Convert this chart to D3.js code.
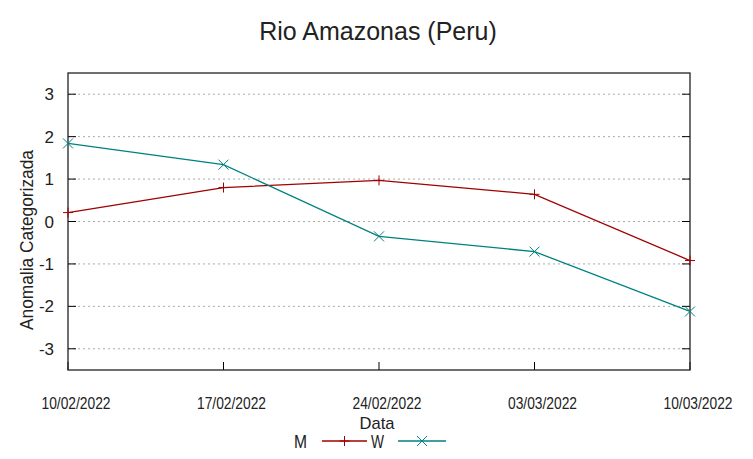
<!DOCTYPE html>
<html lang="pt">
<head>
<meta charset="utf-8" />
<title>Rio Amazonas (Peru)</title>
<style>
   body { margin:0; background:#fff; }
   text { font-family:"Liberation Sans",sans-serif; fill:#222; }
</style>
<script src="https://d3js.org/d3.v7.min.js"></script>
</head>
<body>
<svg id="main" width="753" height="459"></svg>
<script>
// data
var dates = ['10/02/2022','17/02/2022','24/02/2022','03/03/2022','10/03/2022'];
var valsM = [0.21, 0.80, 0.97, 0.64, -0.92];
var valsW = [1.84, 1.34, -0.35, -0.71, -2.12];
var yticks = [-3,-2,-1,0,1,2,3];

var series = [
   {name:'M', vals:valsM, color:'#a00000', mark:'plus'},
   {name:'W', vals:valsW, color:'#008080', mark:'cross'}
];

var svg = d3.select('#main');
var pLeft = 68, pRight = 690, pTop = 73, pBottom = 370;

var parse = d3.timeParse('%d/%m/%Y');
var x = d3.scaleTime()
   .domain([parse(dates[0]), parse(dates[dates.length-1])])
   .range([pLeft, pRight]);
var y = d3.scaleLinear().domain([-3.5, 3.5]).range([pBottom, pTop]);

// narrow-looking text like the reference
function narrow(sel, w) {
   sel.attr('textLength', w).attr('lengthAdjust', 'spacingAndGlyphs');
}

// grid
svg.append('g').selectAll('line').data(yticks).enter().append('line')
   .attr('x1', pLeft).attr('x2', pRight)
   .attr('y1', d => y(d)).attr('y2', d => y(d))
   .attr('stroke', '#aaa').attr('stroke-width', 1).attr('stroke-dasharray', '2,3');

// y axis ticks left + right (inward)
var ya = svg.append('g');
ya.selectAll('.tl').data(yticks).enter().append('line')
   .attr('x1', pLeft).attr('x2', pLeft+8).attr('y1', d => y(d)).attr('y2', d => y(d))
   .attr('stroke', '#000');
ya.selectAll('.tr').data(yticks).enter().append('line')
   .attr('x1', pRight-8).attr('x2', pRight).attr('y1', d => y(d)).attr('y2', d => y(d))
   .attr('stroke', '#000');
ya.selectAll('text').data(yticks).enter().append('text')
   .attr('x', pLeft-14).attr('y', d => y(d)+6)
   .attr('text-anchor', 'end').style('font-size', '17px')
   .text(d => d);

// x ticks (inward from bottom)
svg.append('g').selectAll('line').data(dates).enter().append('line')
   .attr('x1', d => x(parse(d))).attr('x2', d => x(parse(d)))
   .attr('y1', pBottom).attr('y2', pBottom-8).attr('stroke', '#000');
svg.append('g').selectAll('text').data(dates).enter().append('text')
   .attr('x', d => x(parse(d)) + 8).attr('y', 409)
   .attr('text-anchor', 'middle').style('font-size', '16px')
   .text(d => d)
   .call(narrow, 69);

// border
svg.append('rect').attr('x', pLeft).attr('y', pTop)
   .attr('width', pRight-pLeft).attr('height', pBottom-pTop)
   .attr('fill', 'none').attr('stroke', '#222').attr('stroke-width', 1.3);

function marker(g, mark, cx, cy, color) {
   var s = 5;
   if (mark==='plus') {
      g.append('path').attr('d', 'M'+(cx-s)+','+cy+'H'+(cx+s)+'M'+cx+','+(cy-s)+'V'+(cy+s))
         .attr('stroke', color).attr('stroke-width', 1).attr('fill', 'none');
   } else {
      g.append('path').attr('d', 'M'+(cx-s)+','+(cy-s)+'L'+(cx+s)+','+(cy+s)+'M'+(cx-s)+','+(cy+s)+'L'+(cx+s)+','+(cy-s))
         .attr('stroke', color).attr('stroke-width', 1).attr('fill', 'none');
   }
}

var line = d3.line().x(d => x(parse(d.date))).y(d => y(d.v));
series.forEach(function(s) {
   var pts = dates.map((d,i) => ({date:d, v:s.vals[i]}));
   var g = svg.append('g');
   g.append('path').datum(pts).attr('d', line)
      .attr('fill', 'none').attr('stroke', s.color).attr('stroke-width', 1.3);
   pts.forEach(p => marker(g, s.mark, x(parse(p.date)), y(p.v), s.color));
});

// title and labels
svg.append('text').attr('x', 378).attr('y', 40).attr('text-anchor', 'middle')
   .style('font-size', '25px').text('Rio Amazonas (Peru)');
svg.append('text').attr('transform', 'translate(33,240) rotate(-90)')
   .attr('text-anchor', 'middle').style('font-size', '18px').text('Anomalia Categorizada')
   .call(narrow, 180);
svg.append('text').attr('x', 377).attr('y', 429)
   .attr('text-anchor', 'middle').style('font-size', '17px').text('Data')
   .call(narrow, 35);

// legend
var lg = svg.append('g');
var legendPos = [{tx:307, x1:322, x2:367}, {tx:384, x1:398, x2:446}];
series.forEach(function(s, i) {
   var p = legendPos[i];
   lg.append('text').attr('x', p.tx).attr('y', 448)
      .attr('text-anchor', 'end').style('font-size', '18px').text(s.name)
      .call(narrow, 13);
   lg.append('line').attr('x1', p.x1).attr('x2', p.x2).attr('y1', 441).attr('y2', 441)
      .attr('stroke', s.color).attr('stroke-width', 1.3);
   marker(lg, s.mark, (p.x1+p.x2)/2, 441, s.color);
});
</script>
</body>
</html>
